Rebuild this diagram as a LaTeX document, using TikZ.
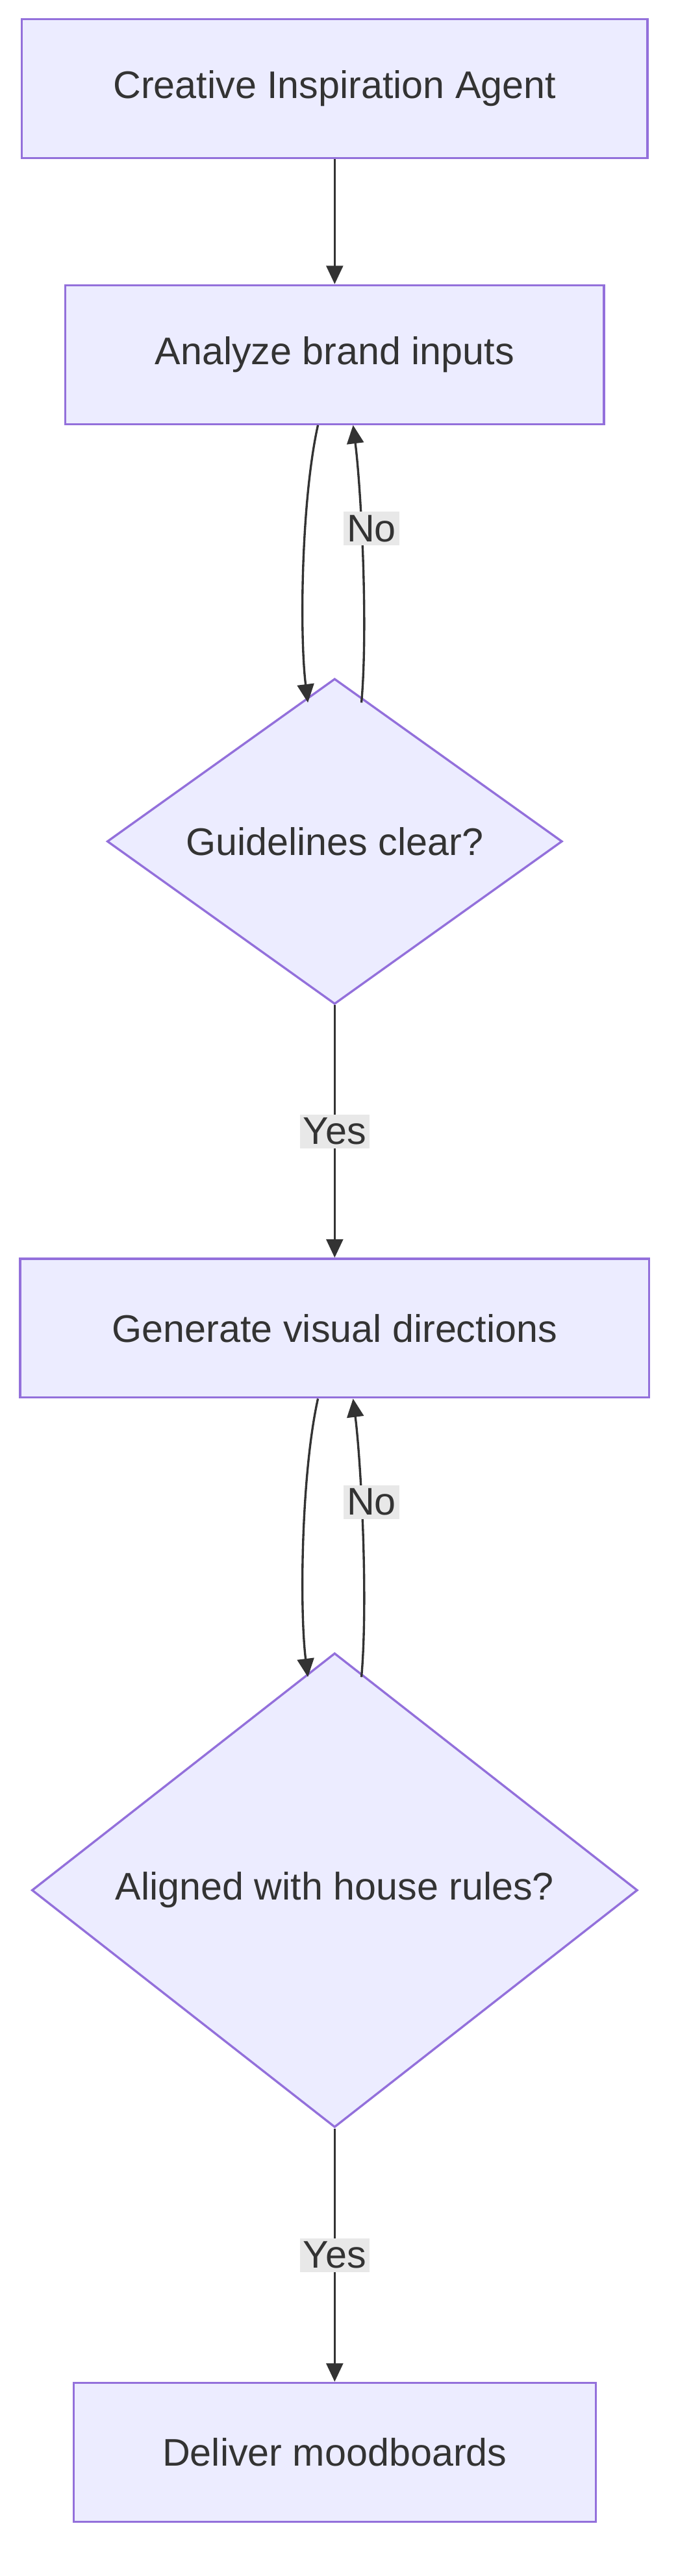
\documentclass[tikz,border=0pt]{standalone}
\usepackage{fontspec}
\setmainfont{Liberation Sans}
\usetikzlibrary{shapes.geometric,arrows.meta,positioning}
\definecolor{boxfill}{HTML}{ECECFF}
\definecolor{boxline}{HTML}{9370DB}
\definecolor{edge}{HTML}{333333}
\definecolor{lblbg}{HTML}{E8E8E8}
\tikzset{
  stepbox/.style={draw=boxline, fill=boxfill, line width=1.3pt, minimum height=83pt, text=edge},
  choice/.style={draw=boxline, fill=boxfill, line width=1.3pt, diamond, aspect=1, inner sep=0pt, text=edge},
  flow/.style={draw=edge, line width=1.3pt, -{Triangle[length=11pt,width=10pt]}},
  lbl/.style={fill=lblbg, inner sep=2pt, text=edge}
}
\begin{document}
\begin{tikzpicture}[x=1pt, y=-1pt, font=\fontsize{23}{27}\selectfont]
\useasboundingbox (0,0) rectangle (405,1540);
\node (agent) [stepbox, minimum width=374pt] at (200,53) {Creative Inspiration Agent};
\node (analyze) [stepbox, minimum width=322pt] at (200,212) {Analyze brand inputs};
\node (guide) [choice, minimum width=272pt] at (200,503) {Guidelines clear?};
\node (generate) [stepbox, minimum width=376pt] at (200,794) {Generate visual directions};
\node (house) [choice, minimum width=362pt] at (200,1130) {Aligned with house rules?};
\node (deliver) [stepbox, minimum width=312pt] at (200,1466) {Deliver moodboards};

\draw [flow] (agent) -- (analyze);
\draw [flow] ([xshift=-10pt]analyze.south) .. controls +(-10,45) and +(-5,-40) .. ([xshift=-16pt,yshift=-15pt]guide.north);
\draw [flow] ([xshift=16pt,yshift=-15pt]guide.north) .. controls +(4,-45) and +(5,40) .. ([xshift=11pt]analyze.south);
\node (no1) [lbl] at (222,316) {No};
\draw [flow] (guide.south) -- node[lbl] (yes1) {Yes} (generate.north);

\draw [flow] ([xshift=-10pt]generate.south) .. controls +(-10,45) and +(-5,-40) .. ([xshift=-16pt,yshift=-15pt]house.north);
\draw [flow] ([xshift=16pt,yshift=-15pt]house.north) .. controls +(4,-45) and +(5,40) .. ([xshift=11pt]generate.south);
\node (no2) [lbl] at (222,898) {No};
\draw [flow] (house.south) -- node[lbl] (yes2) {Yes} (deliver.north);
\end{tikzpicture}
\end{document}
